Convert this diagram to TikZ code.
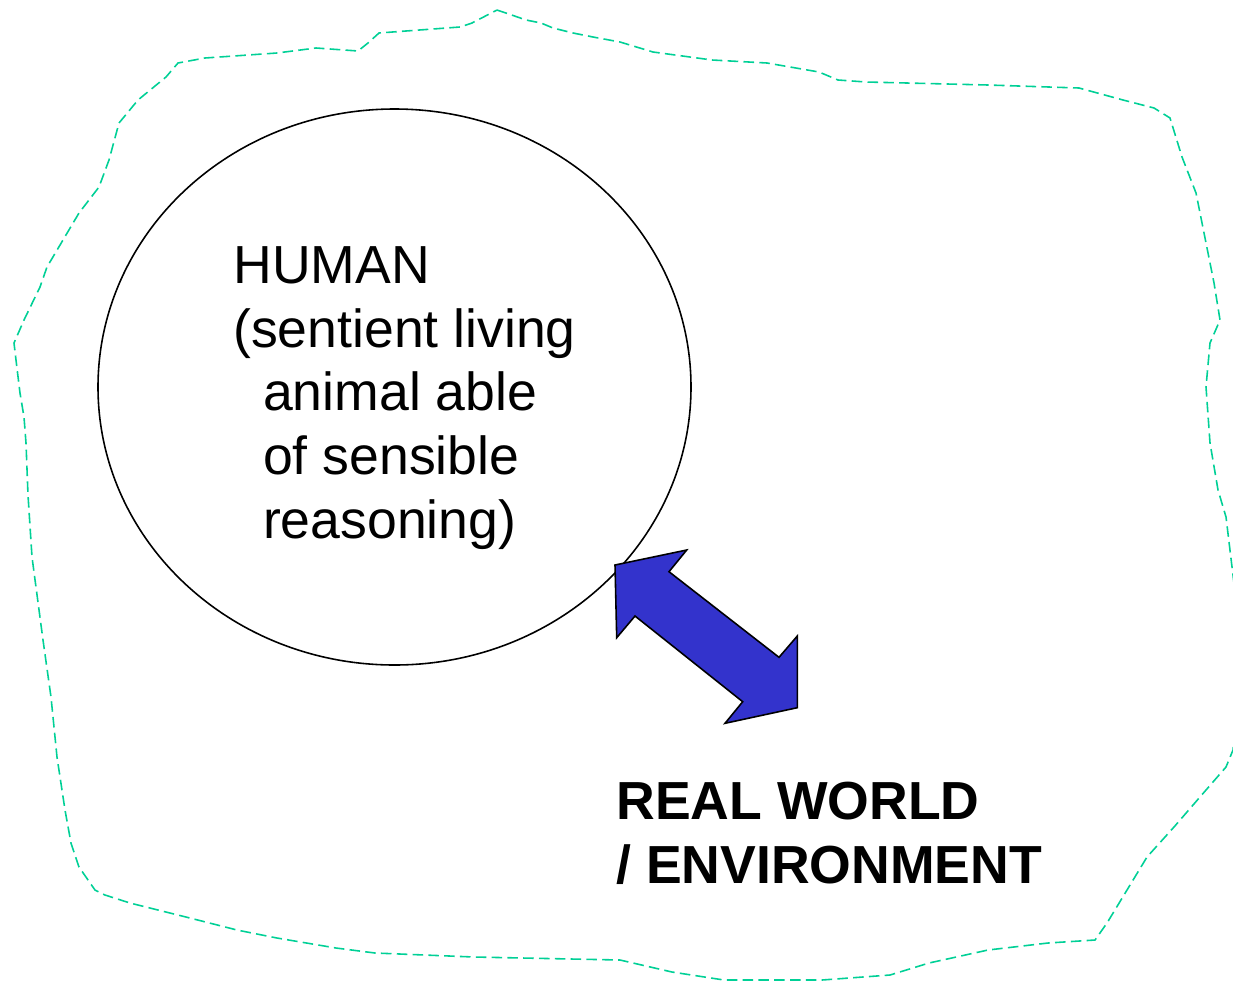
\documentclass[tikz,border=0pt]{standalone}
\usepackage{fontspec}
\setmainfont{Liberation Sans}
\usetikzlibrary{shapes.geometric}
\definecolor{worldgreen}{RGB}{0,208,150}
\definecolor{arrowblue}{RGB}{51,51,204}
\newcommand{\px}{0.02cm}

\begin{document}
\begin{tikzpicture}[x=\px, y=-\px,
    outline/.style={draw=worldgreen, line width=0.9pt, dash pattern=on 6pt off 3pt},
    oval/.style={draw, ellipse, line width=0.9pt, minimum width=593*\px, minimum height=556*\px, inner sep=0pt},
    dblarrow/.style={draw, fill=arrowblue, line width=0.9pt, line join=miter},
    txt/.style={anchor=base west, align=left, inner sep=0pt, font=\fontsize{30.5}{36.2}\selectfont}]
    \useasboundingbox (0,0) rectangle (1233,981);

    % Environment outline
    \draw[outline] (497,10) -- (506,13) -- (526,20) -- (541,23) -- (553,28) -- (573,33) -- (593,37)
        -- (620,42) -- (653,52) -- (712,60) -- (767,63) -- (819,72) -- (838,80) -- (866,82)
        -- (988,85) -- (1079,88) -- (1123,100) -- (1154,108) -- (1170,118) -- (1182,157)
        -- (1196,193) -- (1204,233) -- (1214,283) -- (1220,320) -- (1210,343) -- (1206,387)
        -- (1210,443) -- (1218,490) -- (1226,517) -- (1232,567) -- (1236,600) -- (1238,700)
        -- (1233,750) -- (1226,767) -- (1206,790) -- (1174,827) -- (1147,857) -- (1127,890)
        -- (1107,923) -- (1095,940) -- (1048,943) -- (988,950) -- (929,963) -- (890,975)
        -- (822,980) -- (724,980) -- (672,972) -- (620,960) -- (474,957) -- (375,953)
        -- (336,948) -- (277,938) -- (237,930) -- (178,915) -- (158,910) -- (130,903)
        -- (105,895) -- (95,890) -- (79,867) -- (71,843) -- (65,810) -- (57,757) -- (51,697)
        -- (43,640) -- (32,557) -- (28,495) -- (26,443) -- (24,417) -- (20,393) -- (16,360)
        -- (14,343) -- (24,320) -- (40,287) -- (47,267) -- (63,240) -- (79,213) -- (99,187)
        -- (109,160) -- (119,123) -- (138,100) -- (166,77) -- (178,63) -- (205,58) -- (277,53)
        -- (316,48) -- (358,51) -- (368,43) -- (379,33) -- (460,27) -- (472,23) -- cycle;

    % Human
    \node[oval] (human) at (394.5,387) {};
    \node[txt] (human-text) at (233,538) {HUMAN\\(sentient living\\\hspace*{0.556em}animal able\\\hspace*{0.556em}of sensible\\\hspace*{0.556em}reasoning)};

    % Interaction
    \draw[dblarrow] (615,565) -- (686.7,550) -- (669,571.7) -- (779,657.3) -- (797.3,636)
        -- (797.3,707.7) -- (725,723.3) -- (742.7,701.7) -- (635,616) -- (616.7,637.7) -- cycle;

    % Real world
    \node[txt, font=\fontsize{30.5}{36.2}\selectfont\bfseries] (world-text) at (616,883) {REAL WORLD\\/ ENVIRONMENT};

\end{tikzpicture}
\end{document}
